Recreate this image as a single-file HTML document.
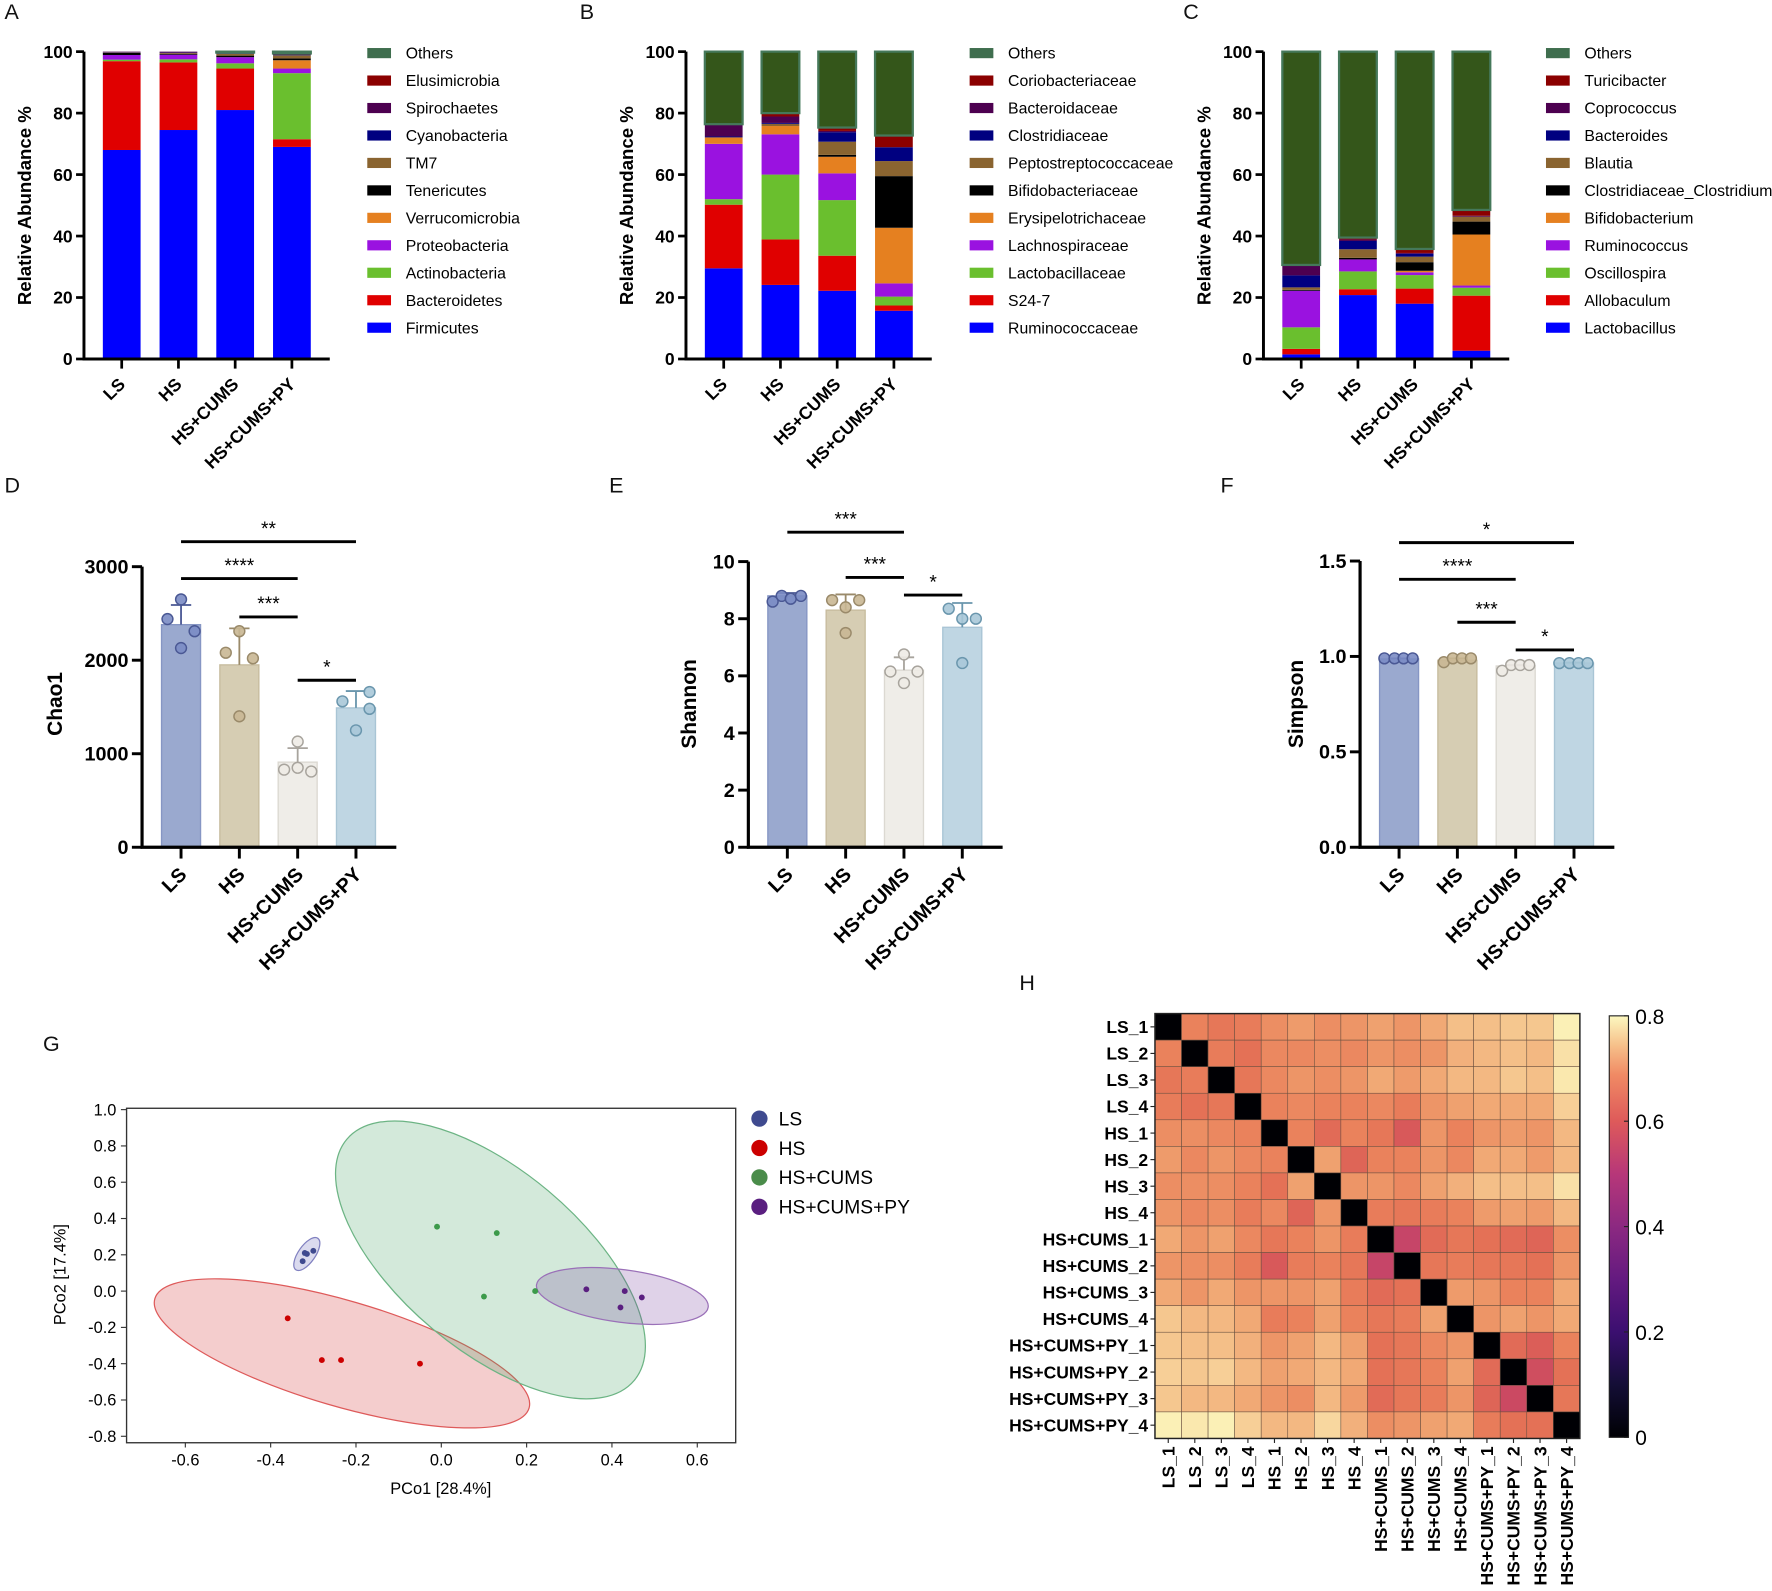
<!DOCTYPE html>
<html><head><meta charset="utf-8"><title>Gut microbiota figure</title>
<style>
html,body{margin:0;padding:0;background:#fff;}
svg{display:block;font-family:"Liberation Sans",Arial,sans-serif;}
</style></head>
<body>
<svg id="fig" xmlns="http://www.w3.org/2000/svg" width="1772" height="1591" viewBox="0 0 1568 1408" preserveAspectRatio="none">
<defs>
<linearGradient id="magma" x1="0" y1="1" x2="0" y2="0">
<stop offset="0" stop-color="#000004"/><stop offset="0.125" stop-color="#140e36"/><stop offset="0.25" stop-color="#3b0f70"/><stop offset="0.375" stop-color="#641a80"/><stop offset="0.5" stop-color="#8c2981"/><stop offset="0.625" stop-color="#b73779"/><stop offset="0.75" stop-color="#de5a5a"/><stop offset="0.86" stop-color="#f08a64"/><stop offset="0.93" stop-color="#f6c08a"/><stop offset="1" stop-color="#fcf8c0"/>
</linearGradient>
</defs>
</svg>
<script>
// ---------- DATA ----------
const groups = ["LS","HS","HS+CUMS","HS+CUMS+PY"];
const stackColors = ["#0000ff","#e00000","#6abf2e","#9a12e0","#e58020","#000000","#8a6430","#000080","#4d0050","#8b0000","#34561a"];
// Panel A (phylum), bottom->top
const phylaNames = ["Firmicutes","Bacteroidetes","Actinobacteria","Proteobacteria","Verrucomicrobia","Tenericutes","TM7","Cyanobacteria","Spirochaetes","Elusimicrobia","Others"];
const phylaLS = [68,28.9,0.5,1.5,0,0.7,0.1,0.1,0.2,0,0];
const phylaHS = [74.5,22,1,1.5,0,0.3,0.3,0.1,0.3,0,0];
const phylaCUMS = [81,13.5,1.7,2,0,0.5,0.6,0.1,0.3,0,0.3];
const phylaPY = [69,2.5,21.5,1.5,2.7,0.6,1,0.1,0.5,0,0.6];
// Panel B (family)
const familyNames = ["Ruminococcaceae","S24-7","Lactobacillaceae","Lachnospiraceae","Erysipelotrichaceae","Bifidobacteriaceae","Peptostreptococcaceae","Clostridiaceae","Bacteroidaceae","Coriobacteriaceae","Others"];
const familyLS = [29.5,20.7,1.8,18,2.1,0,0,0.3,4.0,0,23.6];
const familyHS = [24.1,14.8,21.1,13.1,2.7,0,0.7,0.3,2.1,1.1,20];
const familyCUMS = [22.2,11.4,18.1,8.7,5.4,0.6,4.3,3.1,0.4,1.1,24.7];
const familyPY = [15.7,1.7,2.9,4.3,18.1,16.8,4.9,4.5,0,3.8,27.3];
// Panel C (genus)
const genusNames = ["Lactobacillus","Allobaculum","Oscillospira","Ruminococcus","Bifidobacterium","Clostridiaceae_Clostridium","Blautia","Bacteroides","Coprococcus","Turicibacter","Others"];
const genusLS = [1.5,1.8,7,11.9,0,0.3,0.8,3.9,3.4,0,69.4];
const genusHS = [20.8,1.9,5.8,3.9,0,0.5,2.8,2.7,0.5,0.6,60.5];
const genusCUMS = [18,4.9,4.4,0.9,0.5,2.8,1.8,0.9,0.3,1.3,64.2];
const genusPY = [2.7,17.9,2.6,0.7,16.6,4.2,1.6,0,0.3,1.9,51.5];
const stackTicks = [0,20,40,60,80,100];
// Alpha diversity
const chaoMean = [2380,1950,910,1490];
const chaoErr = [2590,2340,1060,1670];
const chaoPts = [[2650,2440,2310,2130],[2310,2080,2020,1400],[1130,830,850,810],[1660,1560,1480,1250]];
const chaoTicks = [0,1000,2000,3000];
const shanMean = [8.8,8.3,6.2,7.7];
const shanErr = [8.9,8.85,6.65,8.55];
const shanPts = [[8.6,8.8,8.7,8.8],[8.65,8.4,8.65,7.5],[6.75,6.15,6.15,5.75],[8.35,8.0,8.0,6.45]];
const shanTicks = [0,2,4,6,8,10];
const simpMean = [0.987,0.98,0.95,0.965];
const simpErr = [0.99,0.99,0.955,0.968];
const simpPts = [[0.99,0.99,0.99,0.99],[0.97,0.99,0.99,0.99],[0.925,0.955,0.955,0.955],[0.965,0.965,0.965,0.965]];
const simpTicks = [0,0.5,1.0,1.5];
const simpTickLabels = ["0.0","0.5","1.0","1.5"];
// PCoA
const pcoaGroups = ["LS","HS","HS+CUMS","HS+CUMS+PY"];
const pcoaX_LS = [-0.32,-0.30,-0.325,-0.315];
const pcoaY_LS = [0.21,0.222,0.165,0.205];
const pcoaX_HS = [-0.36,-0.28,-0.235,-0.05];
const pcoaY_HS = [-0.15,-0.38,-0.38,-0.40];
const pcoaX_CUMS = [-0.01,0.13,0.10,0.22];
const pcoaY_CUMS = [0.355,0.32,-0.03,0.0];
const pcoaX_PY = [0.34,0.43,0.47,0.42];
const pcoaY_PY = [0.01,0.0,-0.035,-0.09];
const pcoaXTicks = [-0.6,-0.4,-0.2,0.0,0.2,0.4,0.6];
const pcoaYTicks = [1.0,0.8,0.6,0.4,0.2,0.0,-0.2,-0.4,-0.6,-0.8];
// Heatmap
const hmLabels = ["LS_1","LS_2","LS_3","LS_4","HS_1","HS_2","HS_3","HS_4","HS+CUMS_1","HS+CUMS_2","HS+CUMS_3","HS+CUMS_4","HS+CUMS+PY_1","HS+CUMS+PY_2","HS+CUMS+PY_3","HS+CUMS+PY_4"];
const hmValues = [
[0,.64,.62,.63,.66,.68,.66,.67,.69,.67,.70,.73,.73,.74,.74,.79],
[.64,0,.63,.61,.65,.65,.66,.65,.67,.66,.67,.71,.72,.73,.72,.77],
[.62,.63,0,.62,.65,.67,.66,.67,.70,.68,.70,.72,.72,.74,.73,.78],
[.63,.61,.62,0,.64,.65,.64,.64,.65,.63,.67,.69,.70,.70,.70,.75],
[.66,.66,.65,.64,0,.64,.60,.64,.62,.57,.67,.64,.67,.68,.67,.72],
[.68,.65,.67,.65,.64,0,.69,.59,.64,.64,.67,.65,.70,.70,.68,.72],
[.66,.66,.66,.64,.61,.69,0,.67,.67,.65,.69,.71,.73,.73,.73,.77],
[.67,.65,.66,.63,.65,.59,.67,0,.63,.62,.63,.64,.68,.69,.68,.72],
[.70,.67,.69,.65,.62,.64,.67,.63,0,.53,.60,.62,.61,.60,.59,.66],
[.67,.66,.66,.63,.57,.63,.64,.62,.53,0,.62,.63,.62,.62,.61,.67],
[.70,.67,.70,.67,.67,.67,.69,.63,.60,.61,0,.68,.67,.64,.64,.70],
[.74,.72,.72,.70,.63,.64,.69,.64,.62,.63,.69,0,.67,.69,.67,.70],
[.74,.73,.73,.71,.67,.69,.72,.69,.61,.62,.65,.67,0,.60,.58,.64],
[.75,.74,.75,.72,.69,.70,.72,.70,.61,.62,.64,.69,.60,0,.55,.61],
[.74,.72,.72,.70,.67,.66,.72,.68,.60,.62,.63,.67,.59,.54,0,.62],
[.79,.78,.79,.75,.72,.72,.76,.71,.66,.67,.69,.70,.63,.61,.61,0]];
const cbTicks = [0,0.2,0.4,0.6,0.8];

// ---------- HELPERS ----------
const svg = document.getElementById('fig');
const NS = "http://www.w3.org/2000/svg";
function mk(tag, attrs, parent, text){
  const e = document.createElementNS(NS, tag);
  for (const k in attrs) e.setAttribute(k, attrs[k]);
  if (text !== undefined) e.textContent = text;
  (parent || svg).appendChild(e);
  return e;
}
function grp(name){
  const g = mk('g', {});
  
  
  return g;
}
function label(txt, x, y, name){
  const t = mk('text', {x:x, y:y, 'font-size':19, fill:'#111'}, svg, txt);
  
  
}
label('A', 4, 17, 'panel-label-a');
label('B', 513, 17, 'panel-label-b');
label('C', 1047, 17, 'panel-label-c');
label('D', 4, 436, 'panel-label-d');
label('E', 539, 436, 'panel-label-e');
label('F', 1080, 436, 'panel-label-f');
label('G', 38, 930, 'panel-label-g');
label('H', 902, 876, 'panel-label-h');

// ---------- STACKED BAR PANELS ----------
function stackPanel(pname, axisX, seriesNames, data, legX, ytitle){
  const g = grp(pname);
  const y0 = 317.7, y100 = 45.7;
  const ys = v => y0 - (y0 - y100) * v / 100;
  const bw = 33.4, step = 50.2, first = 33.4;
  const xs = i => axisX + first + i * step;
  data.forEach((vals, gi) => {
    let acc = 0;
    vals.forEach((v, si) => {
      if (v <= 0) { return; }
      const top = ys(acc + v), bot = ys(acc);
      const isOther = si === vals.length - 1;
      const r = mk('rect', {x: xs(gi) - bw/2, y: top, width: bw, height: bot - top, fill: stackColors[si],
        stroke: isOther ? '#45785a' : 'none', 'stroke-width': isOther ? 2 : 0}, g);
      
      
      acc += v;
    });
  });
  const ax = mk('path', {d:`M${axisX} ${y100} V${y0} H${axisX+217.5}`, stroke:'#000', 'stroke-width':2.6, fill:'none'}, g);
  
  
  stackTicks.forEach(t => {
    mk('line', {x1: axisX-7, x2: axisX, y1: ys(t), y2: ys(t), stroke:'#000', 'stroke-width':2.4}, g);
    const tl = mk('text', {x: axisX-10, y: ys(t)+5.5, 'text-anchor':'end', 'font-size':15.5, 'font-weight':'bold'}, g, t);
    
    
  });
  groups.forEach((c, i) => {
    mk('line', {x1: xs(i), x2: xs(i), y1: y0, y2: y0+8.5, stroke:'#000', 'stroke-width':2.4}, g);
    const tl = mk('text', {x: xs(i)+4, y: 341, 'text-anchor':'end', 'font-size':15.5, 'font-weight':'bold', transform:`rotate(-45 ${xs(i)+4} 341)`}, g, c);
    
    
  });
  const yt = mk('text', {x: 0, y: 0, 'text-anchor':'middle', 'font-size':16.5, 'font-weight':'bold', transform:`translate(${axisX-47} 182) rotate(-90)`}, g, ytitle);
  
  
  for (let k = 0; k < seriesNames.length; k++){
    const si = seriesNames.length - 1 - k;
    const yy = 47 + k * 24.3;
    const isOther = si === seriesNames.length - 1;
    const sw = mk('rect', {x: legX, y: yy-4.5, width: 21, height: 9, fill: isOther ? '#3f6e4e' : stackColors[si]}, g);
    
    
    const lt = mk('text', {x: legX+34, y: yy+5, 'font-size':14}, g, seriesNames[si]);
    
    
  }
}
stackPanel('phylum-stacked-chart', 74.3, phylaNames, [phylaLS, phylaHS, phylaCUMS, phylaPY], 325, 'Relative Abundance %');
stackPanel('family-stacked-chart', 607, familyNames, [familyLS, familyHS, familyCUMS, familyPY], 858, 'Relative Abundance %');
stackPanel('genus-stacked-chart', 1118, genusNames, [genusLS, genusHS, genusCUMS, genusPY], 1368, 'Relative Abundance %');

// ---------- ALPHA DIVERSITY ----------
const barFill = ["#9aa9cf","#d6cdb3","#efede8","#bfd6e3"];
const barStroke = ["#8696c4","#c7bc9e","#dcd9d2","#a9c5d5"];
const ptFill = ["#7b8cc4","#c9b794","#eeebe5","#a8c8d8"];
const ptStroke = ["#4a5894","#9a8a6a","#a8a49d","#6a96ad"];
const jitter4 = [[0,-12,12,0],[0,-12,12,0],[0,-12,0,12],[12,-12,12,0]];
function alphaPanel(pname, axisX, yTop, ticks, tickLabels, vmax, means, errs, pts, jit, ytitle, titleX, sigs){
  const g = grp(pname);
  const y0 = 749.8;
  const ys = v => y0 - (y0 - yTop) * v / vmax;
  const xs = i => axisX + 34.5 + i * 51.6;
  const bw = 34.5;
  means.forEach((m, i) => {
    const b = mk('rect', {x: xs(i)-bw/2, y: ys(m), width: bw, height: y0 - ys(m), fill: barFill[i], stroke: barStroke[i], 'stroke-width':1.2}, g);
    
    
    mk('path', {d:`M${xs(i)} ${ys(m)} V${ys(errs[i])} M${xs(i)-9} ${ys(errs[i])} H${xs(i)+9}`, stroke: ptStroke[i], 'stroke-width':1.6, fill:'none'}, g);
    pts[i].forEach((p, j) => {
      const c = mk('circle', {cx: xs(i) + jit[i][j], cy: ys(p), r: 4.8, fill: ptFill[i], stroke: ptStroke[i], 'stroke-width':1.3, 'fill-opacity':0.9}, g);
      
      
    });
  });
  const ax = mk('path', {d:`M${axisX} ${yTop} V${y0} H${axisX+225}`, stroke:'#000', 'stroke-width':2.8, fill:'none'}, g);
  
  
  ticks.forEach((t, k) => {
    mk('line', {x1: axisX-9, x2: axisX, y1: ys(t), y2: ys(t), stroke:'#000', 'stroke-width':2.6}, g);
    const tl = mk('text', {x: axisX-12, y: ys(t)+6, 'text-anchor':'end', 'font-size':17.5, 'font-weight':'bold'}, g, tickLabels[k]);
    
    
  });
  groups.forEach((c, i) => {
    mk('line', {x1: xs(i), x2: xs(i), y1: y0, y2: y0+10, stroke:'#000', 'stroke-width':2.6}, g);
    const tl = mk('text', {x: xs(i)+6, y: 775, 'text-anchor':'end', 'font-size':17.5, 'font-weight':'bold', transform:`rotate(-45 ${xs(i)+6} 775)`}, g, c);
    
    
  });
  const yt = mk('text', {x:0, y:0, 'text-anchor':'middle', 'font-size':18.5, 'font-weight':'bold', transform:`translate(${titleX} 623) rotate(-90)`}, g, ytitle);
  
  
  sigs.forEach(s => {
    const l = mk('line', {x1: xs(s[0]), x2: xs(s[1]), y1: s[2], y2: s[2], stroke:'#000', 'stroke-width':2.6}, g);
    
    
    const t = mk('text', {x: (xs(s[0])+xs(s[1]))/2, y: s[2]-6, 'text-anchor':'middle', 'font-size':17}, g, s[3]);
    
    
  });
}
alphaPanel('chao1-chart', 125.7, 501.5, chaoTicks, chaoTicks.map(String), 3000, chaoMean, chaoErr, chaoPts, jitter4, 'Chao1', 55,
  [[0,3,479.4,'**'],[0,2,512,'****'],[1,2,546,'***'],[2,3,602,'*']]);
alphaPanel('shannon-chart', 662.2, 497, shanTicks, shanTicks.map(String), 10, shanMean, shanErr, shanPts,
  [[-13,-5,3,12],[-12,0,12,0],[0,-12,12,0],[-12,0,12,0]], 'Shannon', 616,
  [[0,2,471,'***'],[1,2,511,'***'],[2,3,526.6,'*']]);
alphaPanel('simpson-chart', 1203.5, 496.5, simpTicks, simpTickLabels, 1.5, simpMean, simpErr, simpPts,
  [[-13,-4,4,12],[-12,-4,4,12],[-12,-4,4,12],[-13,-4,4,12]], 'Simpson', 1153,
  [[0,3,480.2,'*'],[0,2,512.7,'****'],[1,2,550.7,'***'],[2,3,575.2,'*']]);

// ---------- PCoA ----------
(function(){
  const g = grp('pcoa-chart');
  const px = v => 390.5 + v * 377.5;
  const py = v => 1142.6 - v * 160.6;
  const box = mk('rect', {x:112, y:980.8, width:539, height:296, fill:'none', stroke:'#333', 'stroke-width':1.2}, g);
  
  
  const ells = [
    ['ellipse-hs', 302.6, 1197.7, 172.5, 46.7, 16.3, 'rgba(215,70,70,0.27)', '#de5a5a'],
    ['ellipse-hs-cums', 434, 1115, 166, 79.7, 40, 'rgba(70,165,100,0.24)', '#6cb484'],
    ['ellipse-hs-cums-py', 550.7, 1146.9, 76.6, 23.3, 7.4, 'rgba(110,50,150,0.22)', '#9a70b8'],
    ['ellipse-ls', 271.5, 1109.8, 17, 7.5, -55, 'rgba(70,70,170,0.2)', '#8080c0']];
  ells.forEach(e => {
    const el = mk('ellipse', {cx:e[1], cy:e[2], rx:e[3], ry:e[4], transform:`rotate(${e[5]} ${e[1]} ${e[2]})`, fill:e[6], stroke:e[7], 'stroke-width':1.1}, g);
    
    
  });
  const sets = [[pcoaX_LS,pcoaY_LS,'#3f4a8f'],[pcoaX_HS,pcoaY_HS,'#cc0000'],[pcoaX_CUMS,pcoaY_CUMS,'#3c9a4a'],[pcoaX_PY,pcoaY_PY,'#5a1f80']];
  sets.forEach(s => {
    s[0].forEach((x, i) => {
      const c = mk('circle', {cx:px(x), cy:py(s[1][i]), r:2.6, fill:s[2]}, g);
      
      
    });
  });
  pcoaXTicks.forEach(t => {
    mk('line', {x1:px(t), x2:px(t), y1:1276.8, y2:1281, stroke:'#333'}, g);
    const tl = mk('text', {x:px(t), y:1297, 'text-anchor':'middle', 'font-size':14.5}, g, t.toFixed(1));
    
    
  });
  pcoaYTicks.forEach(t => {
    mk('line', {x1:107, x2:112, y1:py(t), y2:py(t), stroke:'#333'}, g);
    const tl = mk('text', {x:103, y:py(t)+5, 'text-anchor':'end', 'font-size':14.5}, g, t.toFixed(1));
    
    
  });
  const xt = mk('text', {x:390, y:1322, 'text-anchor':'middle', 'font-size':14.5}, g, 'PCo1 [28.4%]');
  
  
  const yt = mk('text', {x:0, y:0, 'text-anchor':'middle', 'font-size':14.5, transform:'translate(58 1128) rotate(-90)'}, g, 'PCo2 [17.4%]');
  
  
  const lc = ['#3f4a8f','#cc0000','#4a8c4a','#5a1f80'];
  pcoaGroups.forEach((n, i) => {
    const yy = 990 + i * 26;
    mk('circle', {cx:672, cy:yy, r:7.2, fill:lc[i]}, g);
    const t = mk('text', {x:689, y:yy+6, 'font-size':17}, g, n);
    
    
  });
})();

// ---------- HEATMAP ----------
(function(){
  const g = grp('distance-heatmap');
  const x0 = 1022, y0 = 897, cs = 23.5, n = hmLabels.length;
  const stops = [[0,[0,0,4]],[0.125,[20,14,54]],[0.25,[59,15,112]],[0.375,[100,26,128]],[0.5,[140,41,129]],[0.625,[183,55,121]],[0.68,[205,75,96]],[0.72,[218,92,88]],[0.76,[228,112,86]],[0.8,[234,130,92]],[0.86,[239,160,110]],[0.92,[245,196,140]],[1,[252,248,190]]];
  function cmap(v){
    const t = Math.max(0, Math.min(1, v / 0.8));
    for (let k = 1; k < stops.length; k++){
      if (t <= stops[k][0]){
        const a = stops[k-1], b = stops[k], f = (t - a[0]) / (b[0] - a[0]);
        const c = a[1].map((q, j) => Math.round(q + (b[1][j] - q) * f));
        return `rgb(${c[0]},${c[1]},${c[2]})`;
      }
    }
    return 'rgb(252,248,190)';
  }
  hmValues.forEach((row, r) => {
    row.forEach((v, c) => {
      const cell = mk('rect', {x:x0 + c*cs, y:y0 + r*cs, width:cs, height:cs, fill:cmap(v), stroke:'#6a5040', 'stroke-width':0.5}, g);
      
      
    });
  });
  mk('rect', {x:x0, y:y0, width:cs*n, height:cs*n, fill:'none', stroke:'#222', 'stroke-width':1.3}, g);
  hmLabels.forEach((l, i) => {
    mk('line', {x1:x0-4, x2:x0, y1:y0+(i+0.5)*cs, y2:y0+(i+0.5)*cs, stroke:'#222'}, g);
    const rl = mk('text', {x:x0-6, y:y0+(i+0.5)*cs+5.5, 'text-anchor':'end', 'font-size':15.5, 'font-weight':'bold'}, g, l);
    
    
    const cx = x0 + (i+0.5)*cs;
    mk('line', {x1:cx, x2:cx, y1:y0+n*cs, y2:y0+n*cs+4, stroke:'#222'}, g);
    const cl = mk('text', {x:cx+5.5, y:y0+n*cs+7, 'text-anchor':'end', 'font-size':15.5, 'font-weight':'bold', transform:`rotate(-90 ${cx+5.5} ${y0+n*cs+7})`}, g, l);
    
    
  });
  const cbY0 = 1272, cbY1 = 899;
  const cb = mk('rect', {x:1424, y:cbY1, width:17, height:cbY0-cbY1, fill:'url(#magma)', stroke:'#222', 'stroke-width':1}, g);
  
  
  cbTicks.forEach(t => {
    const yy = cbY0 - (cbY0 - cbY1) * t / 0.8;
    mk('line', {x1:1437, x2:1441, y1:yy, y2:yy, stroke:'#222'}, g);
    const tl = mk('text', {x:1447, y:yy+7, 'font-size':18.5}, g, t === 0 ? '0' : t.toFixed(1));
    
    
  });
})();
</script>
</body></html>
